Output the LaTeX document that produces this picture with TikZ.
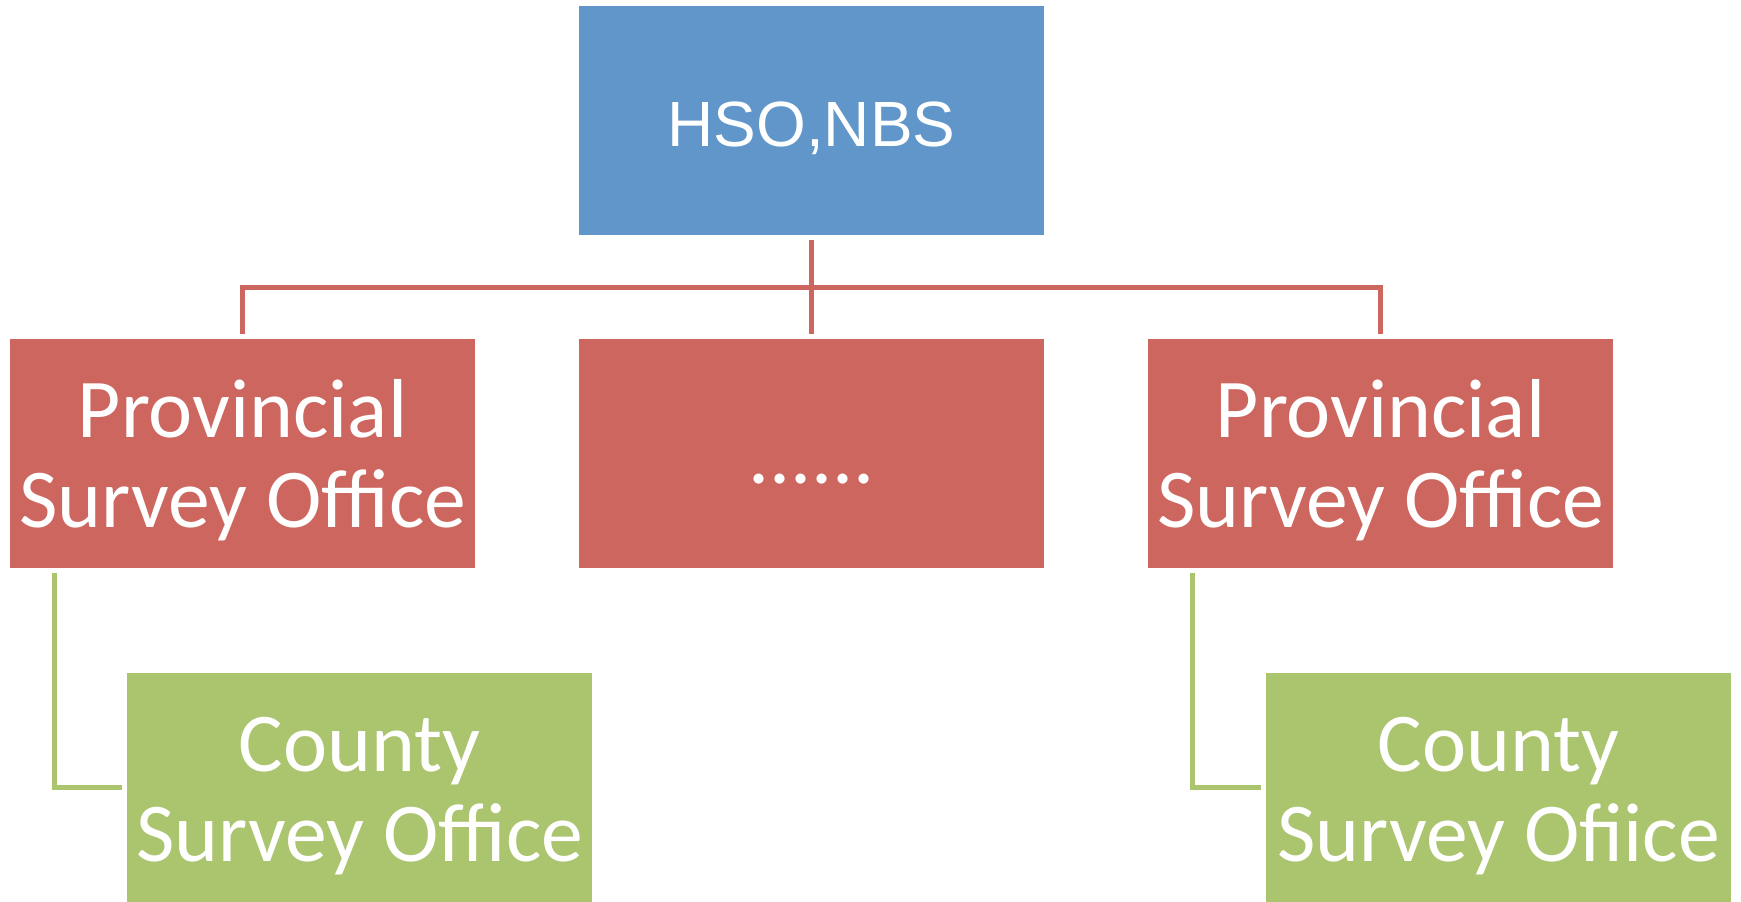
\documentclass[tikz,border=0pt]{standalone}
\usepackage{fontspec}
\newfontfamily\calfont{Carlito}
\newfontfamily\arialfont{Liberation Sans}
\usetikzlibrary{positioning,calc}
\definecolor{hsoblue}{RGB}{96,150,201}
\definecolor{provred}{RGB}{205,102,95}
\definecolor{cntygreen}{RGB}{171,196,110}

\begin{document}
\begin{tikzpicture}[x=0.02cm, y=-0.02cm,
        box/.style={rectangle, text=white, minimum width=9.3cm, minimum height=4.58cm,
                inner sep=0pt, outer sep=3pt, align=center},
        bigtext/.style={font=\calfont\fontsize{47.6}{51}\selectfont, text height=84pt, text depth=0pt},
        link/.style={line width=2.83pt}]
        \fill[white] (0,0) rectangle (1741,902);
        \useasboundingbox (0,0) rectangle (1741,902);
        %nodes
        \node[box, fill=hsoblue, font=\arialfont\fontsize{36.4}{40}\selectfont,
                text height=30pt, text depth=0pt] (hso) at (811.5,120.5) {HSO,NBS};
        \node[box, bigtext, fill=provred] (prov1) at (242.5,453.5) {Provincial\\Survey Office};
        \node[box, bigtext, fill=provred, text height=34.6pt] (dots) at (811.5,453.5) {......};
        \node[box, bigtext, fill=provred] (prov2) at (1380.5,453.5) {Provincial\\Survey Office};
        \node[box, bigtext, fill=cntygreen] (cnty1) at (359.5,787.5) {County\\Survey Office};
        \node[box, bigtext, fill=cntygreen] (cnty2) at (1498.5,787.5) {County\\Survey Ofiice};
        %edges
        \draw[link, provred] (hso) -- (dots);
        \draw[link, provred] (prov1.north) -- ++(0,-46.7) -| (prov2.north);
        \draw[link, cntygreen] ([xshift=0.986cm]prov1.south west) |- (cnty1.west);
        \draw[link, cntygreen] ([xshift=0.986cm]prov2.south west) |- (cnty2.west);
\end{tikzpicture}
\end{document}
